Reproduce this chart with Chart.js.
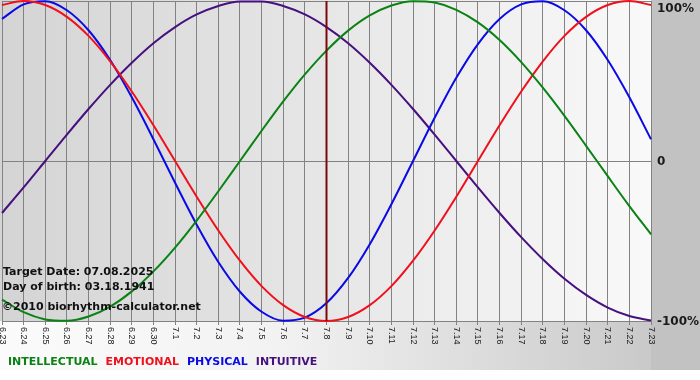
<!DOCTYPE html>
<html>
<head>
<meta charset="utf-8">
<script src="https://cdn.jsdelivr.net/npm/chart.js@4.4.1/dist/chart.umd.min.js"></script>
<style>
  body { margin: 0; background: #fff; }
</style>
</head>
<body>
<canvas id="bioChart" width="700" height="380"></canvas>
<script>
// day labels along the bottom (month.day)
const days = ['6.23', '6.24', '6.25', '6.26', '6.27', '6.28', '6.29', '6.30',
  '7.1', '7.2', '7.3', '7.4', '7.5', '7.6', '7.7', '7.8', '7.9', '7.10', '7.11',
  '7.12', '7.13', '7.14', '7.15', '7.16', '7.17', '7.18', '7.19', '7.20', '7.21',
  '7.22', '7.23'];

// rhythm values in percent, one per day
const intellectual = [-86.6, -94.5, -99.0, -99.9, -97.2, -91.0, -81.5, -69.0, -54.1, -37.2,
  -18.9, 0, 18.9, 37.2, 54.1, 69.0, 81.5, 91.0, 97.2, 99.9, 99.0, 94.5, 86.6, 75.6, 61.8,
  45.8, 28.2, 9.5, -9.5, -28.2, -45.8];
const emotional = [97.5, 100, 97.5, 90.1, 78.2, 62.3, 43.4, 22.3, 0, -22.3, -43.4, -62.3,
  -78.2, -90.1, -97.5, -100, -97.5, -90.1, -78.2, -62.3, -43.4, -22.3, 0, 22.3, 43.4, 62.3,
  78.2, 90.1, 97.5, 100, 97.5];
const physical = [88.8, 97.9, 99.8, 94.2, 81.7, 63.1, 39.8, 13.6, -13.6, -39.8, -63.1, -81.7,
  -94.2, -99.8, -97.9, -88.8, -73.1, -52.0, -27.0, 0, 27.0, 52.0, 73.1, 88.8, 97.9, 99.8,
  94.2, 81.7, 63.1, 39.8, 13.6];
const intuitive = [-32.5, -16.5, 0, 16.5, 32.5, 47.6, 61.4, 73.6, 83.7, 91.6, 96.9, 99.7,
  99.7, 96.9, 91.6, 83.7, 73.6, 61.4, 47.6, 32.5, 16.5, 0, -16.5, -32.5, -47.6, -61.4,
  -73.6, -83.7, -91.6, -96.9, -99.7];

const seriesNames = ['INTELLECTUAL', 'EMOTIONAL', 'PHYSICAL', 'INTUITIVE'];
const seriesValues = [intellectual, emotional, physical, intuitive];

const targetDay = '7.8';
const infoLines = ['Target Date: 07.08.2025', 'Day of birth: 03.18.1941'];
const copyright = '\u00a92010 biorhythm-calculator.net';

// styles
const colors = {
  INTELLECTUAL: '#0a8214',
  EMOTIONAL: '#f0101c',
  PHYSICAL: '#0a0ae6',
  INTUITIVE: '#46107e'
};
const gridColor = '#828282';

// backgrounds, target line, rotated labels and the text legend
const bioPlugin = {
  id: 'bioDecor',
  beforeDraw(chart) {
    const ctx = chart.ctx;
    const area = chart.chartArea;
    ctx.save();
    ctx.fillStyle = '#ffffff';
    ctx.fillRect(0, 0, chart.width, chart.height);

    let g = ctx.createLinearGradient(0, 0, area.right, 0);
    g.addColorStop(0, '#d4d4d4');
    g.addColorStop(1, '#f9f9f9');
    ctx.fillStyle = g;
    ctx.fillRect(0, 0, area.right, area.bottom);

    g = ctx.createLinearGradient(0, 0, chart.width, 0);
    g.addColorStop(0, '#fbfbfb');
    g.addColorStop(0.4, '#f2f2f2');
    g.addColorStop(1, '#c4c4c4');
    ctx.fillStyle = g;
    ctx.fillRect(0, area.bottom, chart.width, 370 - area.bottom);

    ctx.fillStyle = '#c2c2c2';
    ctx.fillRect(area.right, 0, chart.width - area.right, 370);
    ctx.restore();
  },
  afterDatasetsDraw(chart) {
    const ctx = chart.ctx;
    const area = chart.chartArea;
    const x = chart.scales.x.getPixelForValue(days.indexOf(targetDay));
    ctx.save();
    ctx.strokeStyle = '#7a0a0a';
    ctx.lineWidth = 2;
    ctx.beginPath();
    ctx.moveTo(x, area.top);
    ctx.lineTo(x, area.bottom);
    ctx.stroke();
    ctx.restore();
  },
  afterDraw(chart) {
    const ctx = chart.ctx;
    const area = chart.chartArea;
    const xs = chart.scales.x;
    const ys = chart.scales.y;
    ctx.save();

    // day labels, rotated to read downwards
    ctx.fillStyle = '#1a1a1a';
    ctx.font = '9px "Liberation Sans", Arial, sans-serif';
    ctx.textAlign = 'left';
    ctx.textBaseline = 'middle';
    days.forEach((d, i) => {
      const x = xs.getPixelForValue(i);
      ctx.save();
      ctx.translate(x, area.bottom + 6);
      ctx.rotate(Math.PI / 2);
      ctx.fillText(d, 0, 0);
      ctx.restore();
    });

    // percent labels on the right
    ctx.font = 'bold 12px "DejaVu Sans", Verdana, sans-serif';
    ctx.fillStyle = '#1a1a1a';
    ys.ticks.forEach(t => {
      const y = Math.max(ys.getPixelForValue(t.value), 8);
      ctx.fillText(t.value === 0 ? '0' : t.value + '%', area.right + 6, y + 1);
    });

    // info text in the lower left
    ctx.font = 'bold 11px "DejaVu Sans", Verdana, sans-serif';
    ctx.fillStyle = '#111111';
    ctx.fillText(infoLines[0], 3, 272);
    ctx.fillText(infoLines[1], 3, 287);
    ctx.fillText(copyright, 2, 307);

    // legend as coloured words
    ctx.font = 'bold 11px "DejaVu Sans", Verdana, sans-serif';
    let lx = 8;
    seriesNames.forEach(name => {
      ctx.fillStyle = colors[name];
      ctx.fillText(name, lx, 362);
      lx += ctx.measureText(name).width + 8;
    });
    ctx.restore();
  }
};

new Chart(document.getElementById('bioChart'), {
  type: 'line',
  data: {
    labels: days,
    datasets: seriesNames.map((name, i) => ({
      label: name,
      data: seriesValues[i],
      borderColor: colors[name],
      borderWidth: 2,
      pointRadius: 0,
      cubicInterpolationMode: 'monotone',
      fill: false,
      clip: 3
    }))
  },
  options: {
    responsive: false,
    animation: false,
    events: [],
    layout: { padding: { left: 2, top: 1, right: 0, bottom: 0 } },
    plugins: {
      legend: { display: false },
      tooltip: { enabled: false }
    },
    scales: {
      x: {
        type: 'category',
        offset: false,
        grid: { color: gridColor, lineWidth: 1, tickLength: 4 },
        border: { display: false },
        ticks: { display: false },
        afterFit(scale) { scale.height = 59; }
      },
      y: {
        position: 'right',
        min: -100,
        max: 100,
        grid: { color: gridColor, lineWidth: 1, drawTicks: false },
        border: { display: false },
        ticks: { display: false, stepSize: 100 },
        afterFit(scale) { scale.width = 49; }
      }
    }
  },
  plugins: [bioPlugin]
});
</script>
</body>
</html>
